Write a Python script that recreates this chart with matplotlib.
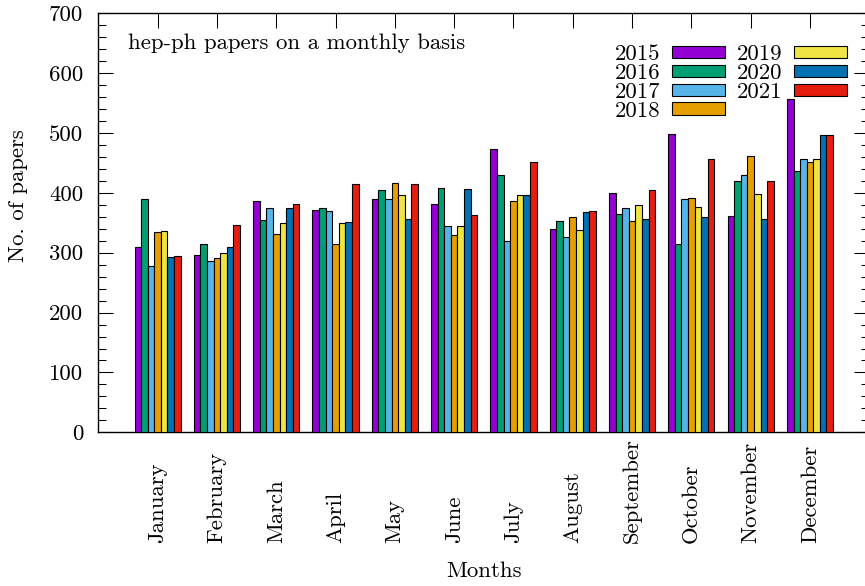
import numpy as np
import matplotlib
matplotlib.use("Agg")
import matplotlib.pyplot as plt
from matplotlib.ticker import MultipleLocator

# monthly hep-ph submissions
months = ['January', 'February', 'March', 'April', 'May', 'June', 'July',
          'August', 'September', 'October', 'November', 'December']
years = ['2015', '2016', '2017', '2018', '2019', '2020', '2021']

p2015 = [310, 296, 386, 371, 390, 382, 473, 340, 400, 498, 362, 556]
p2016 = [390, 315, 355, 374, 405, 408, 430, 353, 365, 315, 419, 436]
p2017 = [278, 287, 374, 369, 390, 344, 320, 327, 374, 390, 430, 456]
p2018 = [335, 291, 332, 315, 417, 330, 386, 360, 353, 392, 461, 451]
p2019 = [337, 300, 350, 350, 396, 344, 397, 338, 380, 377, 398, 457]
p2020 = [293, 310, 374, 351, 356, 407, 397, 368, 356, 360, 357, 497]
p2021 = [295, 346, 382, 414, 414, 363, 451, 369, 405, 457, 419, 496]

series = [p2015, p2016, p2017, p2018, p2019, p2020, p2021]
colors = ['#9400d3', '#009e73', '#56b4e9', '#e69f00',
          '#f0e442', '#0072b2', '#e51e10']

plt.rcParams['font.family'] = 'cmr10'
plt.rcParams['axes.unicode_minus'] = False
plt.rcParams['mathtext.fontset'] = 'cm'
fs = 16.4

fig = plt.figure(figsize=(8.65, 5.86), dpi=100)
W, H = 865, 586
# axes box in pixels (right border runs slightly past the image edge)
x0, x1, ytop, ybot = 98.3, 869.3, 13.3, 432.3
ax = fig.add_axes([x0 / W, 1 - ybot / H, (x1 - x0) / W, (ybot - ytop) / H])

x = np.arange(len(months))
nb = len(series)
w = 1.0 / (nb + 2)  # gnuplot clustered histogram, gap 2
for k, (vals, c, yr) in enumerate(zip(series, colors, years)):
    ax.bar(x + (k - (nb - 1) / 2) * w, vals, w, color=c, edgecolor='black',
           linewidth=0.8, label=yr, zorder=3)

ax.set_xlim(-1, 12)
ax.set_ylim(0, 700)

ax.yaxis.set_major_locator(MultipleLocator(100))
ax.yaxis.set_minor_locator(MultipleLocator(20))
ax.tick_params(axis='y', which='major', direction='in', left=True, right=True,
               length=10.5, width=0.75, labelsize=fs, pad=11)
ax.tick_params(axis='y', which='minor', direction='in', left=True, right=True,
               length=5.5, width=0.75)

ax.set_xticks(x)
ax.set_xticklabels(months, rotation=90, va='bottom', ha='center')
ax.tick_params(axis='x', direction='in', bottom=False, top=True,
               labelbottom=True, labeltop=False, length=10.5, width=0.75,
               labelsize=fs, pad=80)

for s in ax.spines.values():
    s.set_linewidth(1.0)

ax.set_xlabel('Months', fontsize=fs, va='center')
ax.xaxis.set_label_coords(0.5, (ybot - 571.7) / (ybot - ytop))
ax.set_ylabel('No. of papers', fontsize=fs, va='center', ha='center')
ax.yaxis.set_label_coords((18.3 - x0) / (x1 - x0), (ybot - 196) / (ybot - ytop))

ax.text((128 - x0) / (x1 - x0), (ybot - 43) / (ybot - ytop),
        'hep-ph papers on a monthly basis', transform=ax.transAxes,
        fontsize=fs, ha='left', va='center')

ax.legend(ncol=2, frameon=False, markerfirst=False, loc='upper right',
          bbox_to_anchor=((846.7 - x0) / (x1 - x0), (ybot - 44.5) / (ybot - ytop)),
          borderaxespad=0, borderpad=0, fontsize=fs, handlelength=2.32,
          handleheight=0.44, handletextpad=0.51, columnspacing=0.5,
          labelspacing=-0.03)

fig.savefig('out.png', dpi=100)
